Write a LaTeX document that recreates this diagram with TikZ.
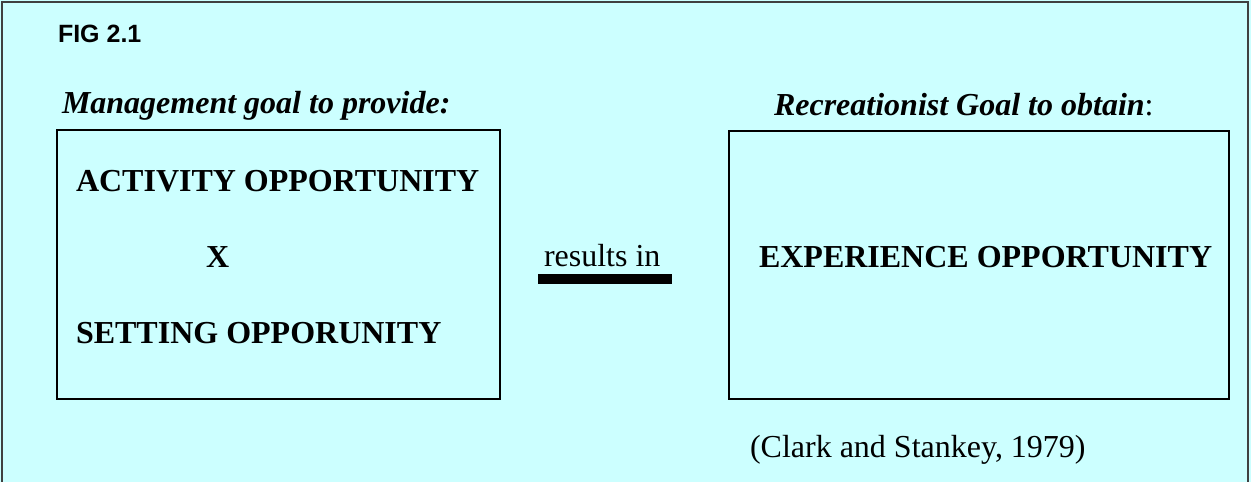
\documentclass[tikz,border=0pt]{standalone}
\usepackage{fontspec}
\setmainfont{Liberation Serif}
\newfontfamily\arialfont{Liberation Sans}
\definecolor{bgcyan}{HTML}{CCFFFF}
\tikzset{
  lbl/.style={inner sep=0pt, outer sep=0pt, anchor=base west, text=black},
  boxsty/.style={draw=black, line width=2.2pt, inner sep=0pt},
  bigtxt/.style={lbl, font=\fontsize{32}{37}\selectfont\bfseries},
}
\begin{document}
\begin{tikzpicture}[x=1pt,y=-1pt]
\useasboundingbox (0,0) rectangle (1251,482);
\fill[bgcyan] (0,0) rectangle (1251,482);
\draw[black!75, line width=2.6pt] (2,490) -- (2,2) -- (1248,2) -- (1248,490);
% title
\node[lbl, font=\arialfont\fontsize{25}{30}\selectfont\bfseries] (fig) at (58,42) {FIG 2.1};
% headings
\node[lbl, font=\fontsize{32}{37}\selectfont\bfseries\itshape] (mgmt) at (62,113) {Management goal to provide:};
\node[lbl, font=\fontsize{32}{37}\selectfont] (rec) at (774,115) {\bfseries\itshape Recreationist Goal to obtain\upshape\mdseries:};
% boxes
\node[boxsty, minimum width=443pt, minimum height=269pt] (lbox) at (278.5,264.5) {};
\node[boxsty, minimum width=500pt, minimum height=268pt] (rbox) at (979,265) {};
% box texts
\node[bigtxt] (act) at (76,191) {ACTIVITY OPPORTUNITY};
\node[bigtxt] (x) at (206,267) {X};
\node[bigtxt] (set) at (76,343) {SETTING OPPORUNITY};
\node[bigtxt] (exp) at (759,267) {EXPERIENCE OPPORTUNITY};
% results in
\node[lbl, font=\fontsize{32}{37}\selectfont] (res) at (544,266) {results in};
\coordinate (barL) at (538,279);
\coordinate (barR) at (672,279);
\draw[line width=10pt] (barL) -- (barR);
% citation
\node[lbl, font=\fontsize{32}{37}\selectfont] (cite) at (750,457) {(Clark and Stankey, 1979)};
\end{tikzpicture}
\end{document}
